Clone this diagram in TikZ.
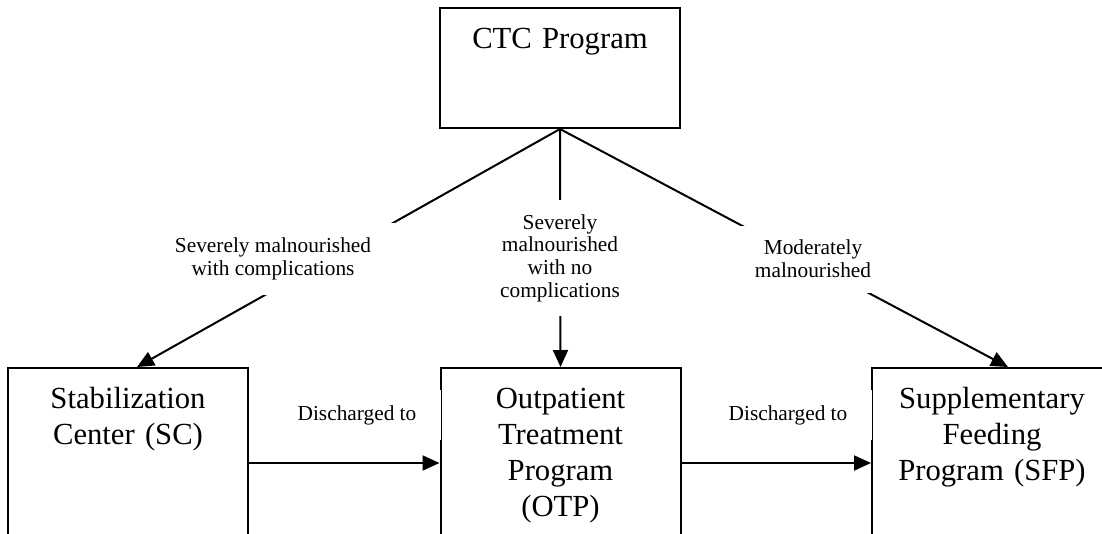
\documentclass[tikz,border=0pt]{standalone}
\usepackage{fontspec}
\setmainfont{Liberation Serif}
\usetikzlibrary{arrows.meta}

\begin{document}
\begin{tikzpicture}[x=0.75pt,y=0.75pt,
    box/.style={draw=black, line width=1.5pt, anchor=north, inner sep=0pt,
        align=center, text width=180pt, text height=30pt,
        font=\fontsize{23}{27}\selectfont},
    lbl/.style={fill=white, align=center, inner xsep=22pt, inner ysep=11pt,
        font=\fontsize{16}{17}\selectfont},
    dis/.style={fill=white, inner sep=0pt, minimum width=126pt,
        minimum height=37.5pt, font=\fontsize{16}{17}\selectfont},
    arr/.style={line width=1.5pt, -{Triangle[length=12.75pt,width=11.25pt]}}]
        \useasboundingbox (0,0) rectangle (1102,-533);
        \clip (0,0) rectangle (1102,-533);
        % boxes
        \node [box, text depth=60pt] (ctc) at (560,-7) {CTC Program};
        \node [box, text depth=120pt] (sc) at (128,-367) {Stabilization\\Center (SC)};
        \node [box, text depth=120pt] (otp) at (560.5,-367) {Outpatient\\Treatment\\Program\\(OTP)};
        \node [box, text depth=120pt] (sfp) at (992,-367) {Supplementary\\Feeding\\Program (SFP)};
        % arrows
        \draw [arr] (ctc.south) -- ([xshift=6.75pt]sc.north);
        \draw [arr] (ctc.south) -- (otp.north);
        \draw [arr] (ctc.south) -- ([xshift=12pt]sfp.north);
        \draw [arr] ([yshift=-72pt]sc.north east) -- ([yshift=-72pt]otp.north west);
        \draw [arr] ([yshift=-72pt]otp.north east) -- ([yshift=-72pt]sfp.north west);
        % labels
        \node [lbl] (sevc) at (273,-259) {Severely malnourished\\with complications};
        \node [lbl] (sevn) at (560,-258) {Severely\\malnourished\\with no\\complications};
        \node [lbl] (mod) at (813,-259) {Moderately\\malnourished};
        \node [dis] (dis1) at (357,-415) {Discharged to};
        \node [dis] (dis2) at (788,-415) {Discharged to};
\end{tikzpicture}
\end{document}
